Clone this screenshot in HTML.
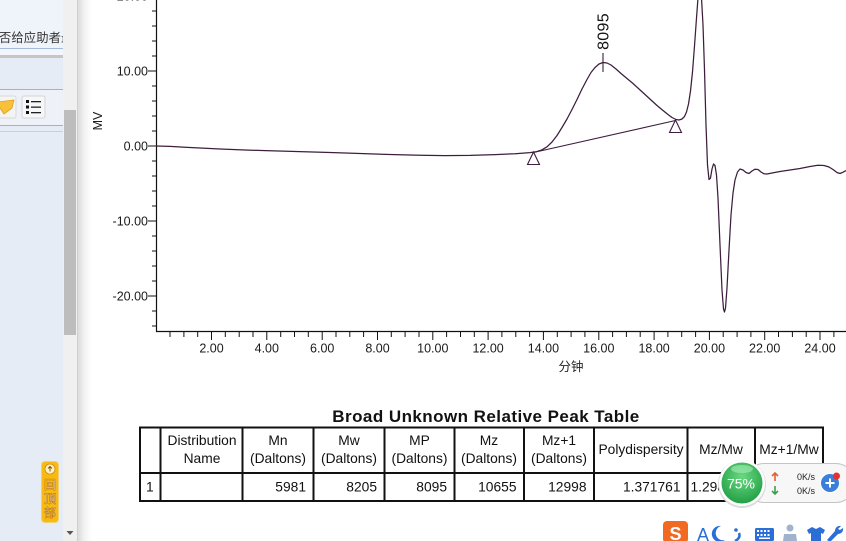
<!DOCTYPE html>
<html><head><meta charset="utf-8">
<style>
html,body{margin:0;padding:0;}
body{width:846px;height:541px;overflow:hidden;position:relative;background:#fff;font-family:"Liberation Sans","Noto Sans CJK SC",sans-serif;}
.abs{position:absolute;}
</style></head><body>

<!-- left panel -->
<div class="abs" style="left:0;top:0;width:63px;height:541px;background:#e6ecf6;"></div>
<div class="abs" style="left:0;top:0;width:63px;height:48px;background:#eff3fa;"></div>
<div class="abs" style="left:-1px;top:28px;font-size:12.3px;color:#333;white-space:nowrap;letter-spacing:0.1px;font-family:'Liberation Sans','Noto Sans CJK SC',sans-serif;">否给应助者最</div>
<div class="abs" style="left:0;top:48px;width:63px;height:1px;background:#a6b9da;"></div>
<div class="abs" style="left:0;top:49px;width:63px;height:6px;background:#f2f5fb;"></div>
<div class="abs" style="left:0;top:55px;width:63px;height:3px;background:#c6c6c6;"></div>
<div class="abs" style="left:0;top:58px;width:63px;height:31px;background:#e6ecf6;"></div>
<div class="abs" style="left:0;top:89px;width:63px;height:1px;background:#9fb2d0;"></div>
<div class="abs" style="left:0;top:90px;width:63px;height:35px;background:#eef2f8;"></div>
<div class="abs" style="left:0;top:125px;width:63px;height:1px;background:#9fb2d0;"></div>
<div class="abs" style="left:0;top:131px;width:63px;height:1px;background:#c4d0e6;"></div>
<!-- toolbar icons -->
<svg class="abs" style="left:0;top:94px" width="63" height="26">
  <rect x="-6" y="2" width="22" height="22" rx="2" fill="#f4f4f2" stroke="#d8d8d8"/>
  <path d="M-2 8 L14 6 L12 14 L4 20 L0 14 Z" fill="#f7c23a" stroke="#e0a020" stroke-width="0.8"/>
  <rect x="22" y="2" width="23" height="22" rx="2" fill="#f6f7f9" stroke="#d4d4d4"/>
  <rect x="26" y="6" width="3" height="3" fill="#111"/>
  <rect x="26" y="11.5" width="3" height="3" fill="#111"/>
  <rect x="26" y="17" width="3" height="3" fill="#111"/>
  <rect x="31" y="7" width="10" height="1.3" fill="#222"/>
  <rect x="31" y="12.5" width="10" height="1.3" fill="#222"/>
  <rect x="31" y="18" width="10" height="1.3" fill="#222"/>
</svg>
<!-- back to top badge -->
<div class="abs" style="left:41px;top:461px;width:16px;height:60px;background:#f8b915;border:1px solid #f0d070;border-radius:4px;"></div>
<svg class="abs" style="left:41px;top:461px" width="18" height="62">
  <circle cx="9" cy="8" r="5" fill="#fff4c8" stroke="#d08a00" stroke-width="0.8"/>
  <path d="M9 5.5 L9 10.5 M7 7.5 L9 5.5 L11 7.5" stroke="#8a5000" stroke-width="1" fill="none"/>
  <text x="9" y="28" font-size="12" text-anchor="middle" fill="#fff" stroke="#b06a00" stroke-width="0.5" font-family="Noto Sans CJK SC, sans-serif">回</text>
  <text x="9" y="42" font-size="12" text-anchor="middle" fill="#fff" stroke="#b06a00" stroke-width="0.5" font-family="Noto Sans CJK SC, sans-serif">顶</text>
  <text x="9" y="56" font-size="12" text-anchor="middle" fill="#fff" stroke="#b06a00" stroke-width="0.5" font-family="Noto Sans CJK SC, sans-serif">部</text>
</svg>
<!-- scrollbar -->
<div class="abs" style="left:63px;top:0;width:14px;height:541px;background:#f0f0f0;"></div>
<div class="abs" style="left:64px;top:110px;width:12px;height:225px;background:#bdbdbd;"></div>
<svg class="abs" style="left:63px;top:528px" width="14" height="10"><path d="M3.5 3 L10.5 3 L7 7 Z" fill="#555"/></svg>
<div class="abs" style="left:77px;top:0;width:1px;height:541px;background:#cfcfcf;"></div>
<div class="abs" style="left:78px;top:0;width:14px;height:541px;background:linear-gradient(to right,#dcdcdc,#f4f4f4 50%,#ffffff);"></div>

<!-- chart -->
<svg class="abs" style="left:0;top:0" width="846" height="541" font-family="Liberation Sans, Arial, sans-serif">
  <!-- axes -->
  <line x1="156.5" y1="0" x2="156.5" y2="331.5" stroke="#111" stroke-width="1.2"/>
  <line x1="156" y1="331.5" x2="846" y2="331.5" stroke="#111" stroke-width="1.2"/>
  <!-- y ticks -->
  <g stroke="#111" stroke-width="1">
    <line x1="148" y1="-4" x2="157" y2="-4"/>
    <line x1="152" y1="11" x2="157" y2="11"/>
    <line x1="152" y1="26" x2="157" y2="26"/>
    <line x1="152" y1="41" x2="157" y2="41"/>
    <line x1="152" y1="56" x2="157" y2="56"/>
    <line x1="148" y1="71" x2="157" y2="71"/>
    <line x1="152" y1="86" x2="157" y2="86"/>
    <line x1="152" y1="101" x2="157" y2="101"/>
    <line x1="152" y1="116" x2="157" y2="116"/>
    <line x1="152" y1="131" x2="157" y2="131"/>
    <line x1="148" y1="146" x2="157" y2="146"/>
    <line x1="152" y1="161" x2="157" y2="161"/>
    <line x1="152" y1="176" x2="157" y2="176"/>
    <line x1="152" y1="191" x2="157" y2="191"/>
    <line x1="152" y1="206" x2="157" y2="206"/>
    <line x1="148" y1="221" x2="157" y2="221"/>
    <line x1="152" y1="236" x2="157" y2="236"/>
    <line x1="152" y1="251" x2="157" y2="251"/>
    <line x1="152" y1="266" x2="157" y2="266"/>
    <line x1="152" y1="281" x2="157" y2="281"/>
    <line x1="148" y1="296" x2="157" y2="296"/>
    <line x1="152" y1="311" x2="157" y2="311"/>
    <line x1="152" y1="326" x2="157" y2="326"/>
  </g>
  <g font-size="12.5" fill="#1a1a1a" text-anchor="end">
    <text x="148" y="0.5">20.00</text>
    <text x="148" y="75.5">10.00</text>
    <text x="148" y="150.5">0.00</text>
    <text x="148" y="225.5">-10.00</text>
    <text x="148" y="300.5">-20.00</text>
  </g>
  <text transform="translate(102,121) rotate(-90)" font-size="12.5" fill="#1a1a1a" text-anchor="middle">MV</text>
  <!-- x ticks -->
  <g stroke="#111" stroke-width="1">
    <line x1="170" y1="332" x2="170" y2="337"/><line x1="183.9" y1="332" x2="183.9" y2="337"/><line x1="197.7" y1="332" x2="197.7" y2="337"/><line x1="211.5" y1="332" x2="211.5" y2="340"/>
    <line x1="225.3" y1="332" x2="225.3" y2="337"/><line x1="239.2" y1="332" x2="239.2" y2="337"/><line x1="253" y1="332" x2="253" y2="337"/><line x1="266.8" y1="332" x2="266.8" y2="340"/>
    <line x1="280.7" y1="332" x2="280.7" y2="337"/><line x1="294.5" y1="332" x2="294.5" y2="337"/><line x1="308.3" y1="332" x2="308.3" y2="337"/><line x1="322.2" y1="332" x2="322.2" y2="340"/>
    <line x1="336" y1="332" x2="336" y2="337"/><line x1="349.8" y1="332" x2="349.8" y2="337"/><line x1="363.6" y1="332" x2="363.6" y2="337"/><line x1="377.5" y1="332" x2="377.5" y2="340"/>
    <line x1="391.3" y1="332" x2="391.3" y2="337"/><line x1="405.1" y1="332" x2="405.1" y2="337"/><line x1="419" y1="332" x2="419" y2="337"/><line x1="432.8" y1="332" x2="432.8" y2="340"/>
    <line x1="446.6" y1="332" x2="446.6" y2="337"/><line x1="460.5" y1="332" x2="460.5" y2="337"/><line x1="474.3" y1="332" x2="474.3" y2="337"/><line x1="488.1" y1="332" x2="488.1" y2="340"/>
    <line x1="501.9" y1="332" x2="501.9" y2="337"/><line x1="515.8" y1="332" x2="515.8" y2="337"/><line x1="529.6" y1="332" x2="529.6" y2="337"/><line x1="543.4" y1="332" x2="543.4" y2="340"/>
    <line x1="557.3" y1="332" x2="557.3" y2="337"/><line x1="571.1" y1="332" x2="571.1" y2="337"/><line x1="584.9" y1="332" x2="584.9" y2="337"/><line x1="598.8" y1="332" x2="598.8" y2="340"/>
    <line x1="612.6" y1="332" x2="612.6" y2="337"/><line x1="626.4" y1="332" x2="626.4" y2="337"/><line x1="640.2" y1="332" x2="640.2" y2="337"/><line x1="654.1" y1="332" x2="654.1" y2="340"/>
    <line x1="667.9" y1="332" x2="667.9" y2="337"/><line x1="681.7" y1="332" x2="681.7" y2="337"/><line x1="695.6" y1="332" x2="695.6" y2="337"/><line x1="709.4" y1="332" x2="709.4" y2="340"/>
    <line x1="723.2" y1="332" x2="723.2" y2="337"/><line x1="737.1" y1="332" x2="737.1" y2="337"/><line x1="750.9" y1="332" x2="750.9" y2="337"/><line x1="764.7" y1="332" x2="764.7" y2="340"/>
    <line x1="778.5" y1="332" x2="778.5" y2="337"/><line x1="792.4" y1="332" x2="792.4" y2="337"/><line x1="806.2" y1="332" x2="806.2" y2="337"/><line x1="820" y1="332" x2="820" y2="340"/>
    <line x1="833.9" y1="332" x2="833.9" y2="337"/>
  </g>
  <g font-size="12.5" fill="#1a1a1a" text-anchor="middle">
    <text x="211.5" y="352.5">2.00</text>
    <text x="266.8" y="352.5">4.00</text>
    <text x="322.2" y="352.5">6.00</text>
    <text x="377.5" y="352.5">8.00</text>
    <text x="432.8" y="352.5">10.00</text>
    <text x="488.1" y="352.5">12.00</text>
    <text x="543.4" y="352.5">14.00</text>
    <text x="598.8" y="352.5">16.00</text>
    <text x="654.1" y="352.5">18.00</text>
    <text x="709.4" y="352.5">20.00</text>
    <text x="764.7" y="352.5">22.00</text>
    <text x="820" y="352.5">24.00</text>
  </g>
  <text x="571" y="371" font-size="12.5" fill="#222" text-anchor="middle" font-family="Liberation Sans, Noto Sans CJK SC, sans-serif">分钟</text>

  <!-- baseline & markers -->
  <line x1="533.5" y1="152.5" x2="675.5" y2="120.5" stroke="#3d1e3d" stroke-width="1.1"/>
  <polygon points="533.5,152 527.5,164.5 539.5,164.5" fill="none" stroke="#3d1e3d" stroke-width="1.1"/>
  <polygon points="675.5,120 669.5,132.5 681.5,132.5" fill="none" stroke="#3d1e3d" stroke-width="1.1"/>
  <line x1="603" y1="53" x2="603" y2="72" stroke="#3d1e3d" stroke-width="1.1"/>
  <text transform="translate(608.5,31.5) rotate(-90)" font-size="16" fill="#111" text-anchor="middle" letter-spacing="0.3">8095</text>

  <!-- trace -->
  <polyline fill="none" stroke="#3d1e3d" stroke-width="1.25" stroke-linejoin="round" points="
156,146 170,146.4 185,147.2 200,148 220,149 245,150 270,150.8 300,151.6 330,152.5 360,153.5 390,154.5 420,155.3 445,155.6 470,155.4 495,154.6 515,153.7 530,152.6
536,151.8 542,149.8 547,146.8 552,142 557,135.5 562,127.5 567,119 572,109.5 577,99.5 582,89 587,79.5 591,72.5 595,67.5 599,64 603,62.5 607,63 611,65 616,69 621,73.5 627,78.5 633,83.5 639,89 645,94.5 651,100 657,105.5 663,110.5 668,114.5 672,117.5 676,119.5 679,120 682,119 684.5,116.5 686.5,112 688.5,104 690.5,91 692.5,72 694.5,46 696.5,18 698,-2 699.5,-8 701.5,-2 703,25 704.5,70 706,125 707.5,165 709,179.5 710.5,178 712,169 713.5,164 715,165.5 716.5,175 718,198 720,245 722,290 723.5,309 724.5,312 725.5,308 727,288 729,250 731,215 733,193 735,180 737.5,172 740,169 743,170 746,172.5 749,173.5 752,171 755,169.2 758,169.5 761,172 764,173.8 767,174 772,173 780,171.5 790,170 800,168.5 810,166.5 818,165.3 824,165.5 829,167 833,169.5 837,172.5 840,173.5 843,172.2 846,170.5"/>

  <!-- table -->
  <text x="486" y="422" font-size="17" font-weight="bold" fill="#111" text-anchor="middle" letter-spacing="0.45">Broad Unknown Relative Peak Table</text>
  <g stroke="#111" stroke-width="2" fill="none">
    <rect x="140" y="427.5" width="683" height="73.5"/>
    <line x1="140" y1="473" x2="823" y2="473"/>
    <line x1="160.5" y1="427.5" x2="160.5" y2="501"/>
    <line x1="242.5" y1="427.5" x2="242.5" y2="501"/>
    <line x1="313.5" y1="427.5" x2="313.5" y2="501"/>
    <line x1="384.5" y1="427.5" x2="384.5" y2="501"/>
    <line x1="454.5" y1="427.5" x2="454.5" y2="501"/>
    <line x1="524" y1="427.5" x2="524" y2="501"/>
    <line x1="594" y1="427.5" x2="594" y2="501"/>
    <line x1="687.5" y1="427.5" x2="687.5" y2="501"/>
    <line x1="755" y1="427.5" x2="755" y2="501"/>
  </g>
  <g font-size="13.8" fill="#111" text-anchor="middle">
    <text x="202" y="445">Distribution</text>
    <text x="202" y="463">Name</text>
    <text x="278" y="445">Mn</text>
    <text x="278" y="463">(Daltons)</text>
    <text x="349" y="445">Mw</text>
    <text x="349" y="463">(Daltons)</text>
    <text x="419.5" y="445">MP</text>
    <text x="419.5" y="463">(Daltons)</text>
    <text x="489" y="445">Mz</text>
    <text x="489" y="463">(Daltons)</text>
    <text x="559" y="445">Mz+1</text>
    <text x="559" y="463">(Daltons)</text>
    <text x="641" y="454">Polydispersity</text>
    <text x="721" y="454">Mz/Mw</text>
    <text x="789" y="454">Mz+1/Mw</text>
  </g>
  <text x="146" y="491.5" font-size="13.8" fill="#111">1</text>
  <g font-size="13.8" fill="#111" text-anchor="end">
    <text x="306" y="491.5">5981</text>
    <text x="377" y="491.5">8205</text>
    <text x="447" y="491.5">8095</text>
    <text x="516.5" y="491.5">10655</text>
    <text x="586.5" y="491.5">12998</text>
    <text x="680.5" y="491.5">1.371761</text>
    <text x="748" y="491.5">1.298598</text>
  </g>
</svg>

<!-- floating net widget -->
<svg class="abs" style="left:700px;top:455px" width="146" height="60" font-family="Liberation Sans, sans-serif">
  <defs>
    <radialGradient id="g1" cx="50%" cy="35%" r="65%">
      <stop offset="0" stop-color="#6ad882"/>
      <stop offset="1" stop-color="#23a045"/>
    </radialGradient>
  </defs>
  <rect x="45" y="8.5" width="110" height="39" rx="19.5" fill="#f7f7f7" stroke="#c4c4c4"/>
  <circle cx="42" cy="29" r="24" fill="#dcdcdc"/>
  <circle cx="42" cy="28" r="23" fill="#fff"/>
  <circle cx="42" cy="28" r="20.5" fill="url(#g1)"/>
  <ellipse cx="42" cy="14" rx="11" ry="4" fill="#a8ecb8" opacity="0.6"/>
  <text x="41" y="33.5" font-size="14" fill="#fff" text-anchor="middle">75%</text>
  <path d="M75 18 L75 26 M72 21 L75 18 L78 21" stroke="#e06030" stroke-width="1.6" fill="none"/>
  <path d="M75 31 L75 39 M72 36 L75 39 L78 36" stroke="#3aa050" stroke-width="1.6" fill="none"/>
  <text x="115" y="25" font-size="9" fill="#222" text-anchor="end">0K/s</text>
  <text x="115" y="39" font-size="9" fill="#222" text-anchor="end">0K/s</text>
  <circle cx="130" cy="28" r="9.5" fill="#3b7fd8" stroke="#fff" stroke-width="1"/>
  <path d="M130 23.5 L130 32.5 M125.5 28 L134.5 28" stroke="#fff" stroke-width="2"/>
  <circle cx="136.5" cy="21" r="3.5" fill="#e53030"/>
</svg>

<!-- sogou toolbar -->
<svg class="abs" style="left:655px;top:516px" width="191" height="25" font-family="Liberation Sans, sans-serif">
  <rect x="8" y="5" width="25" height="22" rx="4" fill="#f26a22"/>
  <text x="20.5" y="24" font-size="18" font-weight="bold" fill="#fff" text-anchor="middle">S</text>
  <text x="42" y="25" font-size="18" fill="#2b6fd6">A</text>
  <path d="M66 10 A8 8 0 1 0 70 24 A6 6 0 0 1 66 10 Z" fill="#2b6fd6"/>
  <circle cx="81" cy="14" r="1.8" fill="#2b6fd6"/>
  <path d="M84 17 Q86 22 80 25" stroke="#2b6fd6" stroke-width="2.5" fill="none"/>
  <rect x="100" y="12" width="19" height="13" rx="1.5" fill="#2b6fd6"/>
  <g fill="#fff"><rect x="102" y="14" width="2" height="2"/><rect x="105.5" y="14" width="2" height="2"/><rect x="109" y="14" width="2" height="2"/><rect x="112.5" y="14" width="2" height="2"/><rect x="102" y="18" width="2" height="2"/><rect x="105.5" y="18" width="2" height="2"/><rect x="109" y="18" width="2" height="2"/><rect x="112.5" y="18" width="2" height="2"/><rect x="104" y="21.5" width="11" height="1.5"/></g>
  <circle cx="135" cy="12" r="3.5" fill="#9fb4cc"/>
  <path d="M128 25 L129 18 L141 18 L142 25 Z" fill="#9fb4cc"/>
  <path d="M152 14 L157 11 L161 13 L165 11 L170 14 L168 18 L166 17 L166 25 L156 25 L156 17 L154 18 Z" fill="#2b6fd6"/>
  <path d="M186 10 A5 5 0 0 0 180 15 L172 24 L175 26 L183 18 A5 5 0 0 0 188 12 L185 14 L183 13 Z" fill="#2b6fd6"/>
</svg>

</body></html>
